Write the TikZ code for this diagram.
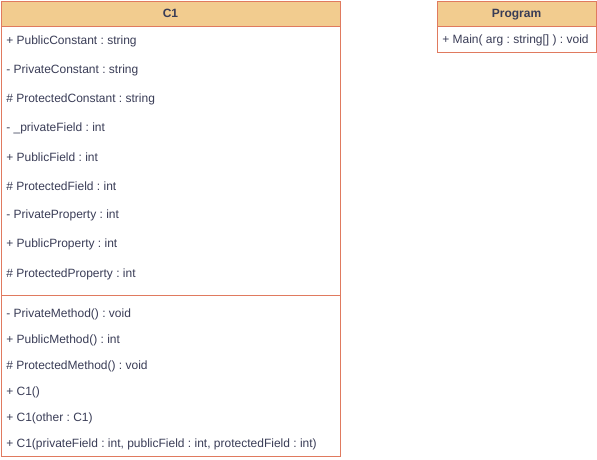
\documentclass[tikz,border=0pt]{standalone}
\usepackage{fontspec}
\setmainfont{Liberation Sans}
\frenchspacing
\definecolor{hdr}{HTML}{F2CC8F}
\definecolor{edge}{HTML}{E07A5F}
\definecolor{ink}{HTML}{393C56}
\begin{document}
\begin{tikzpicture}[x=0.75pt,y=-0.75pt,
  box/.style={draw=edge,line width=0.75pt,anchor=north west,inner sep=0pt},
  title/.style={anchor=base,inner sep=0pt,text=ink,font=\fontsize{9}{11}\selectfont\bfseries},
  member/.style={anchor=west,inner sep=0pt,text=ink,font=\fontsize{9}{11}\selectfont}]
\useasboundingbox (0,0) rectangle (597,460);
% class C1
\node[box,fill=hdr,minimum width=339*0.75pt,minimum height=25*0.75pt] (c1head)at(1,1){};
\node[box,minimum width=339*0.75pt,minimum height=269*0.75pt] (c1attr)at(1,26){};
\node[box,minimum width=339*0.75pt,minimum height=161*0.75pt] (c1meth)at(1,295){};
\node[title] (c1name)at(170.5,18){C1};
\node[member] (a1)at(6,41){+ PublicConstant : string};
\node[member] (a2)at(6,70){- PrivateConstant : string};
\node[member] (a3)at(6,99){\# ProtectedConstant : string};
\node[member] (a4)at(6,128){- \_privateField : int};
\node[member] (a5)at(6,157){+ PublicField : int};
\node[member] (a6)at(6,186){\# ProtectedField : int};
\node[member] (a7)at(6,215){- PrivateProperty : int};
\node[member] (a8)at(6,244){+ PublicProperty : int};
\node[member] (a9)at(6,274){\# ProtectedProperty : int};
\node[member] (m1)at(6,314){- PrivateMethod() : void};
\node[member] (m2)at(6,340){+ PublicMethod() : int};
\node[member] (m3)at(6,366){\# ProtectedMethod() : void};
\node[member] (m4)at(6,392){+ C1()};
\node[member] (m5)at(6,418){+ C1(other : C1)};
\node[member] (m6)at(6,444){+ C1(privateField : int, publicField : int, protectedField : int)};
% class Program
\node[box,fill=hdr,minimum width=159*0.75pt,minimum height=25*0.75pt] (phead)at(437,1){};
\node[box,minimum width=159*0.75pt,minimum height=26*0.75pt] (pmeth)at(437,26){};
\node[title] (pname)at(516.5,18){Program};
\node[member] (p1)at(442,40){+ Main( arg : string[] ) : void};
\end{tikzpicture}
\end{document}
